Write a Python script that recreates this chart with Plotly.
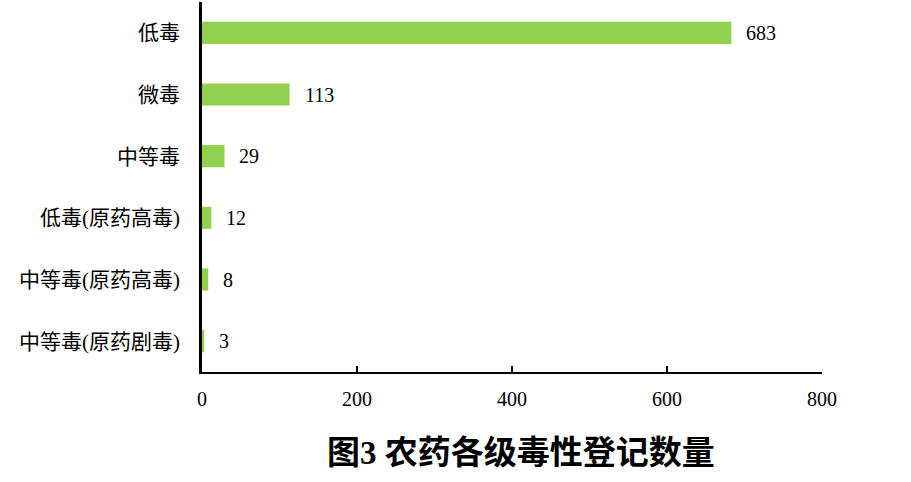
import plotly.graph_objects as go

# Registration counts by toxicity grade (top to bottom)
categories = ["低毒", "微毒", "中等毒", "低毒(原药高毒)", "中等毒(原药高毒)", "中等毒(原药剧毒)"]
counts = [683, 113, 29, 12, 8, 3]
x_ticks = [0, 200, 400, 600, 800]
title_text = "<b>图3 农药各级毒性登记数量</b>"

serif = "Liberation Serif, Times New Roman, Noto Sans CJK SC, serif"

fig = go.Figure(
    go.Bar(
        x=counts,
        y=categories,
        orientation="h",
        marker=dict(color="#92D050", line=dict(width=0)),
        width=0.36,
        hoverinfo="x+y",
    )
)

# Value labels to the right of each bar
for c, v in zip(categories, counts):
    fig.add_annotation(
        x=v, y=c, text=str(v), showarrow=False,
        xanchor="left", yanchor="middle", xshift=13,
        font=dict(family=serif, size=20, color="#000000"),
    )

fig.add_annotation(
    xref="paper", yref="paper", x=0.515, y=-0.22,
    text=title_text, showarrow=False,
    xanchor="center", yanchor="middle",
    font=dict(family=serif, size=33, color="#000000"),
)

fig.update_layout(
    width=911, height=482,
    margin=dict(l=202, r=89, t=2, b=110),
    paper_bgcolor="white", plot_bgcolor="white",
    showlegend=False,
    font=dict(family=serif, color="#000000"),
    xaxis=dict(
        range=[0, 800], tickvals=x_ticks, ticktext=[str(t) for t in x_ticks],
        showgrid=False, zeroline=False,
        showline=True, linecolor="#000000", linewidth=2,
        ticks="inside", ticklen=6, tickwidth=1.5, tickcolor="#000000",
        tickfont=dict(family=serif, size=20),
        ticklabelstandoff=8,
    ),
    yaxis=dict(
        categoryorder="array", categoryarray=categories[::-1],
        showgrid=False, zeroline=False,
        showline=True, linecolor="#000000", linewidth=2.5,
        ticks="", tickfont=dict(family=serif, size=21),
        ticklabelstandoff=15,
    ),
)

fig.write_html("out.html")
